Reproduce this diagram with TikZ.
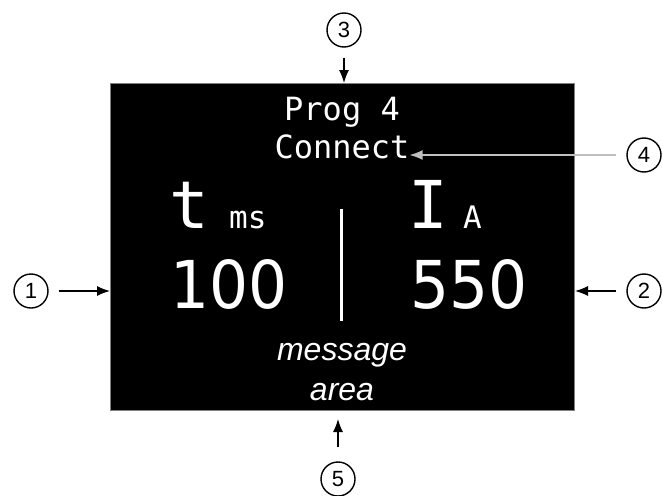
\documentclass[tikz,border=0pt]{standalone}
\usepackage{fontspec}
\setmainfont{Liberation Sans}
\newfontfamily\lcdfont{DejaVu Sans Mono}
\newfontfamily\digitfont[FakeStretch=0.93]{DejaVu Sans}
\usetikzlibrary{arrows.meta,positioning,calc}

\begin{document}
\begin{tikzpicture}[
  x=1pt,y=-1pt,
  num/.style={circle,draw=black,line width=1.4pt,minimum size=34pt,inner sep=0pt,
              font=\fontsize{22}{22}\selectfont},
  arr/.style={-{Latex[length=13pt,width=10pt]},line width=1.3pt},
  lcd/.style={text=white,inner sep=0pt,anchor=base,font=\lcdfont\fontsize{32}{32}\selectfont},
  sym/.style={text=white,inner sep=0pt,anchor=base west,font=\lcdfont\fontsize{66}{66}\selectfont},
  unit/.style={text=white,inner sep=0pt,anchor=base west,font=\lcdfont\fontsize{31}{31}\selectfont},
  val/.style={text=white,inner sep=0pt,anchor=base west,font=\digitfont\fontsize{66}{66}\selectfont},
  msg/.style={text=white,inner sep=0pt,anchor=base,font=\itshape\fontsize{32}{32}\selectfont}
]
  \useasboundingbox (0,0) rectangle (663,495);

  % display panel
  \node[draw=black!50,fill=black,line width=1pt,minimum width=464pt,minimum height=327pt,
        inner sep=0pt,anchor=north west] (screen) at (110,83) {};

  \node[lcd] (prog) at (342,120) {Prog 4};
  \node[lcd] (conn) at (342,158) {Connect};

  \node[sym]  (tsym)  at (169,228) {t};
  \node[unit] (tunit) at (229,228) {ms};
  \node[sym]  (isym)  at (408,228) {I};
  \node[unit] (iunit) at (463,228) {A};

  \node[val] (tval) at (170,308) {100};
  \node[val] (ival) at (410,308) {550};
  \draw[white,line width=3pt] (341,209) -- (341,321);

  \node[msg] (msg1) at (342,360) {message};
  \node[msg] (msg2) at (342,400) {area};

  % callouts
  \node[num] (c3) at (344,30)  {3};
  \node[num] (c1) at (31,291)  {1};
  \node[num] (c2) at (644,291) {2};
  \node[num] (c4) at (644,155) {4};
  \node[num] (c5) at (338,479) {5};

  \draw[arr,shorten <=10pt] (c3) -- (c3 |- screen.north);
  \draw[arr,shorten <=10pt] (c1) -- (c1 -| screen.west);
  \draw[arr,shorten <=10pt] (c2) -- (c2 -| screen.east);
  \draw[arr,black!25,shorten <=10pt] (c4) -- (c4 -| conn.east);
  \draw[arr,shorten <=14pt,shorten >=8pt] (c5) -- (c5 |- screen.south);
\end{tikzpicture}
\end{document}
